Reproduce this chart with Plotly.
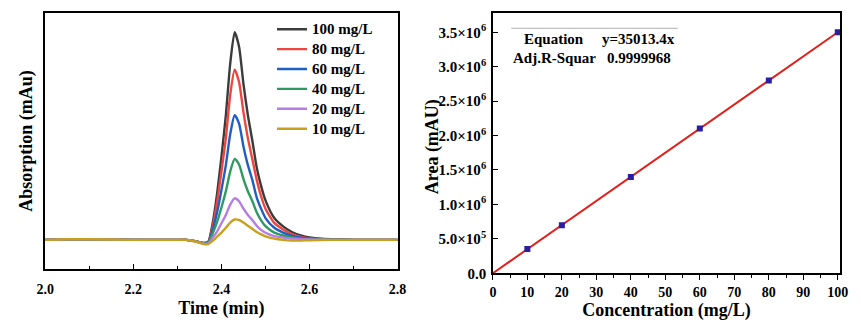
import plotly.graph_objects as go

# ---------- Left panel data: chromatograms ----------
time_min = [2.00, 2.05, 2.10, 2.20, 2.30, 2.32, 2.34, 2.36, 2.37, 2.38, 2.39, 2.40, 2.41, 2.42,
            2.43, 2.44, 2.45, 2.46, 2.47, 2.48, 2.49, 2.50, 2.52, 2.54, 2.56, 2.58, 2.60, 2.65, 2.70, 2.80]
abs_100 = [0, 0.3, 0.3, 0, 0, 0, -0.6, -1.5, -1.0, 8, 22, 40, 60, 85,
           100, 93, 75, 60, 48, 35, 26, 19, 10.5, 6.5, 3.8, 2.2, 1.2, 0.3, 0, 0]
abs_80 = [0, 0.3, 0.3, 0, 0, 0, -0.6, -1.5, -1.1, 6.5, 18, 33, 49, 70,
          82, 76, 61.5, 49, 39, 29, 21, 15, 8.2, 5.0, 2.8, 1.4, 0.7, 0.2, 0, 0]
abs_60 = [0, 0.3, 0.3, 0, 0, 0, -0.6, -1.6, -1.3, 4.8, 13, 24, 36, 51,
          60, 56, 45, 36, 29, 20.5, 15, 10.5, 5.8, 3.5, 1.9, 1.0, 0.5, 0.1, 0, 0]
abs_40 = [0, 0.3, 0.3, 0, 0, 0, -0.6, -1.7, -1.5, 3.1, 8.6, 15.6, 23.4, 33,
          39, 36.3, 29.3, 23.4, 18.7, 13.3, 9.4, 6.6, 3.5, 2.1, 1.2, 0.6, 0.3, 0.1, 0, 0]
abs_20 = [0, 0.3, 0.3, 0, 0, 0, -0.7, -1.8, -1.8, 1.0, 4.0, 8, 12, 17,
          20, 18.6, 15, 12, 9.6, 6.8, 4.8, 3.4, 1.8, 1.1, 0.6, 0.3, 0.2, 0, 0, 0]
abs_10 = [0, 0.3, 0.3, 0, 0, 0, -0.8, -2.0, -2.0, -0.5, 1.5, 3.5, 5.8, 8.3,
          9.8, 9.6, 8.3, 6.8, 5.3, 3.8, 2.6, 1.7, 0.6, 0.0, -0.3, -0.3, -0.2, 0, 0, 0]
series_names = ["100 mg/L", "80 mg/L", "60 mg/L", "40 mg/L", "20 mg/L", "10 mg/L"]
series_vals = [abs_100, abs_80, abs_60, abs_40, abs_20, abs_10]
series_colors = ["#3c3c3c", "#ee4540", "#1f5fc4", "#2e9a62", "#b57de3", "#c9a01e"]
time_ticks = [2.0, 2.2, 2.4, 2.6, 2.8]
time_ticklabels = ["2.0", "2.2", "2.4", "2.6", "2.8"]

# ---------- Right panel data: calibration ----------
conc = [10, 20, 40, 60, 80, 100]
area = [352000, 698000, 1399000, 2104000, 2799000, 3502000]
fit_x = [0, 100]
fit_y = [0, 3501340]
conc_ticks = [0, 10, 20, 30, 40, 50, 60, 70, 80, 90, 100]
area_tickvals = [0, 500000, 1000000, 1500000, 2000000, 2500000, 3000000, 3500000]
area_ticktext = ["0.0", "5.0×10<sup>5</sup>", "1.0×10<sup>6</sup>", "1.5×10<sup>6</sup>",
                 "2.0×10<sup>6</sup>", "2.5×10<sup>6</sup>", "3.0×10<sup>6</sup>", "3.5×10<sup>6</sup>"]

FONT = "Liberation Serif"
fig = go.Figure()

for name, vals, col in zip(series_names, series_vals, series_colors):
    fig.add_trace(go.Scatter(x=time_min, y=vals, mode="lines",
                             name="<b><span style='font-size:15px'>" + name + "</span></b>",
                             line=dict(color=col, width=2.4, shape="spline", smoothing=0.6),
                             xaxis="x", yaxis="y"))

fig.add_trace(go.Scatter(x=fit_x, y=fit_y, mode="lines", showlegend=False,
                         line=dict(color="#e0201c", width=2), xaxis="x2", yaxis="y2"))
fig.add_trace(go.Scatter(x=conc, y=area, mode="markers", showlegend=False,
                         marker=dict(symbol="square", size=6, color="#2a1fa0"),
                         xaxis="x2", yaxis="y2"))

axis_common = dict(showline=True, linecolor="black", linewidth=1.5, mirror=True,
                   showgrid=False, zeroline=False)
title_font = dict(family=FONT, size=18, color="black")

fig.update_layout(
    width=861, height=325,
    margin=dict(l=0, r=0, t=0, b=0),
    paper_bgcolor="white", plot_bgcolor="white",
    font=dict(family=FONT, color="black"),
    showlegend=True,
    legend=dict(x=0.312, y=0.955, xanchor="left", yanchor="top",
                bgcolor="rgba(0,0,0,0)", tracegroupgap=0,
                font=dict(family=FONT, size=13, color="black")),
    xaxis=dict(domain=[0.043, 0.461], range=[2.0, 2.8], anchor="y",
               tickvals=time_ticks, ticktext=["<b>" + t + "</b>" for t in time_ticklabels],
               tickfont=dict(family=FONT, size=14, color="black"),
               ticks="inside", ticklen=5, tickcolor="black", tickwidth=1.2,
               ticklabelstandoff=6,
               minor=dict(dtick=0.1, ticks="inside", ticklen=3, tickcolor="black"),
               title=dict(text="<b>Time (min)</b>", standoff=6, font=title_font),
               **axis_common),
    yaxis=dict(domain=[0.151, 0.96], range=[-14.1, 109.4], anchor="x",
               showticklabels=False, ticks="",
               title=dict(text="<b>Absorption (mAu)</b>", standoff=6, font=title_font),
               **axis_common),
    xaxis2=dict(domain=[0.574, 0.986], range=[0, 100.7], anchor="y2",
                tickvals=conc_ticks, ticktext=["<b>%d</b>" % c for c in conc_ticks],
                tickfont=dict(family=FONT, size=14, color="black"),
                ticks="outside", ticklen=5, tickcolor="black", tickwidth=1.2,
                minor=dict(dtick=5, ticks="outside", ticklen=3, tickcolor="black"),
                title=dict(text="<b>Concentration (mg/L)</b>", standoff=4, font=title_font),
                **axis_common),
    yaxis2=dict(domain=[0.138, 0.96], range=[0, 3785000], anchor="x2",
                tickvals=area_tickvals, ticktext=["<b>" + t + "</b>" for t in area_ticktext],
                tickfont=dict(family=FONT, size=15, color="black"),
                ticks="inside", ticklen=5, tickcolor="black", tickwidth=1.2,
                ticklabelstandoff=2,
                **axis_common),
)

# Right y-axis title placed explicitly (sits tight against tick labels in reference)
fig.add_annotation(text="<b>Area (mAU)</b>", xref="paper", yref="paper",
                   x=432/861, y=1-150/325, textangle=-90, xanchor="center", yanchor="middle",
                   showarrow=False, font=title_font)

# Equation table in right panel
fig.add_shape(type="line", xref="paper", yref="paper",
              x0=513/861, x1=683/861, y0=1-29/325, y1=1-29/325,
              line=dict(color="#b0b0b0", width=1))
tbl_font = dict(family=FONT, size=15, color="black")
for txt, xc, yc in [("Equation", 557, 40), ("y=35013.4x", 643, 40),
                    ("Adj.R-Squar", 557, 59), ("0.9999968", 643, 59)]:
    fig.add_annotation(text="<b>" + txt + "</b>", xref="paper", yref="paper", x=xc/861, y=1-yc/325,
                       xanchor="center", yanchor="middle", showarrow=False, font=tbl_font)

fig.write_html("out.html")
